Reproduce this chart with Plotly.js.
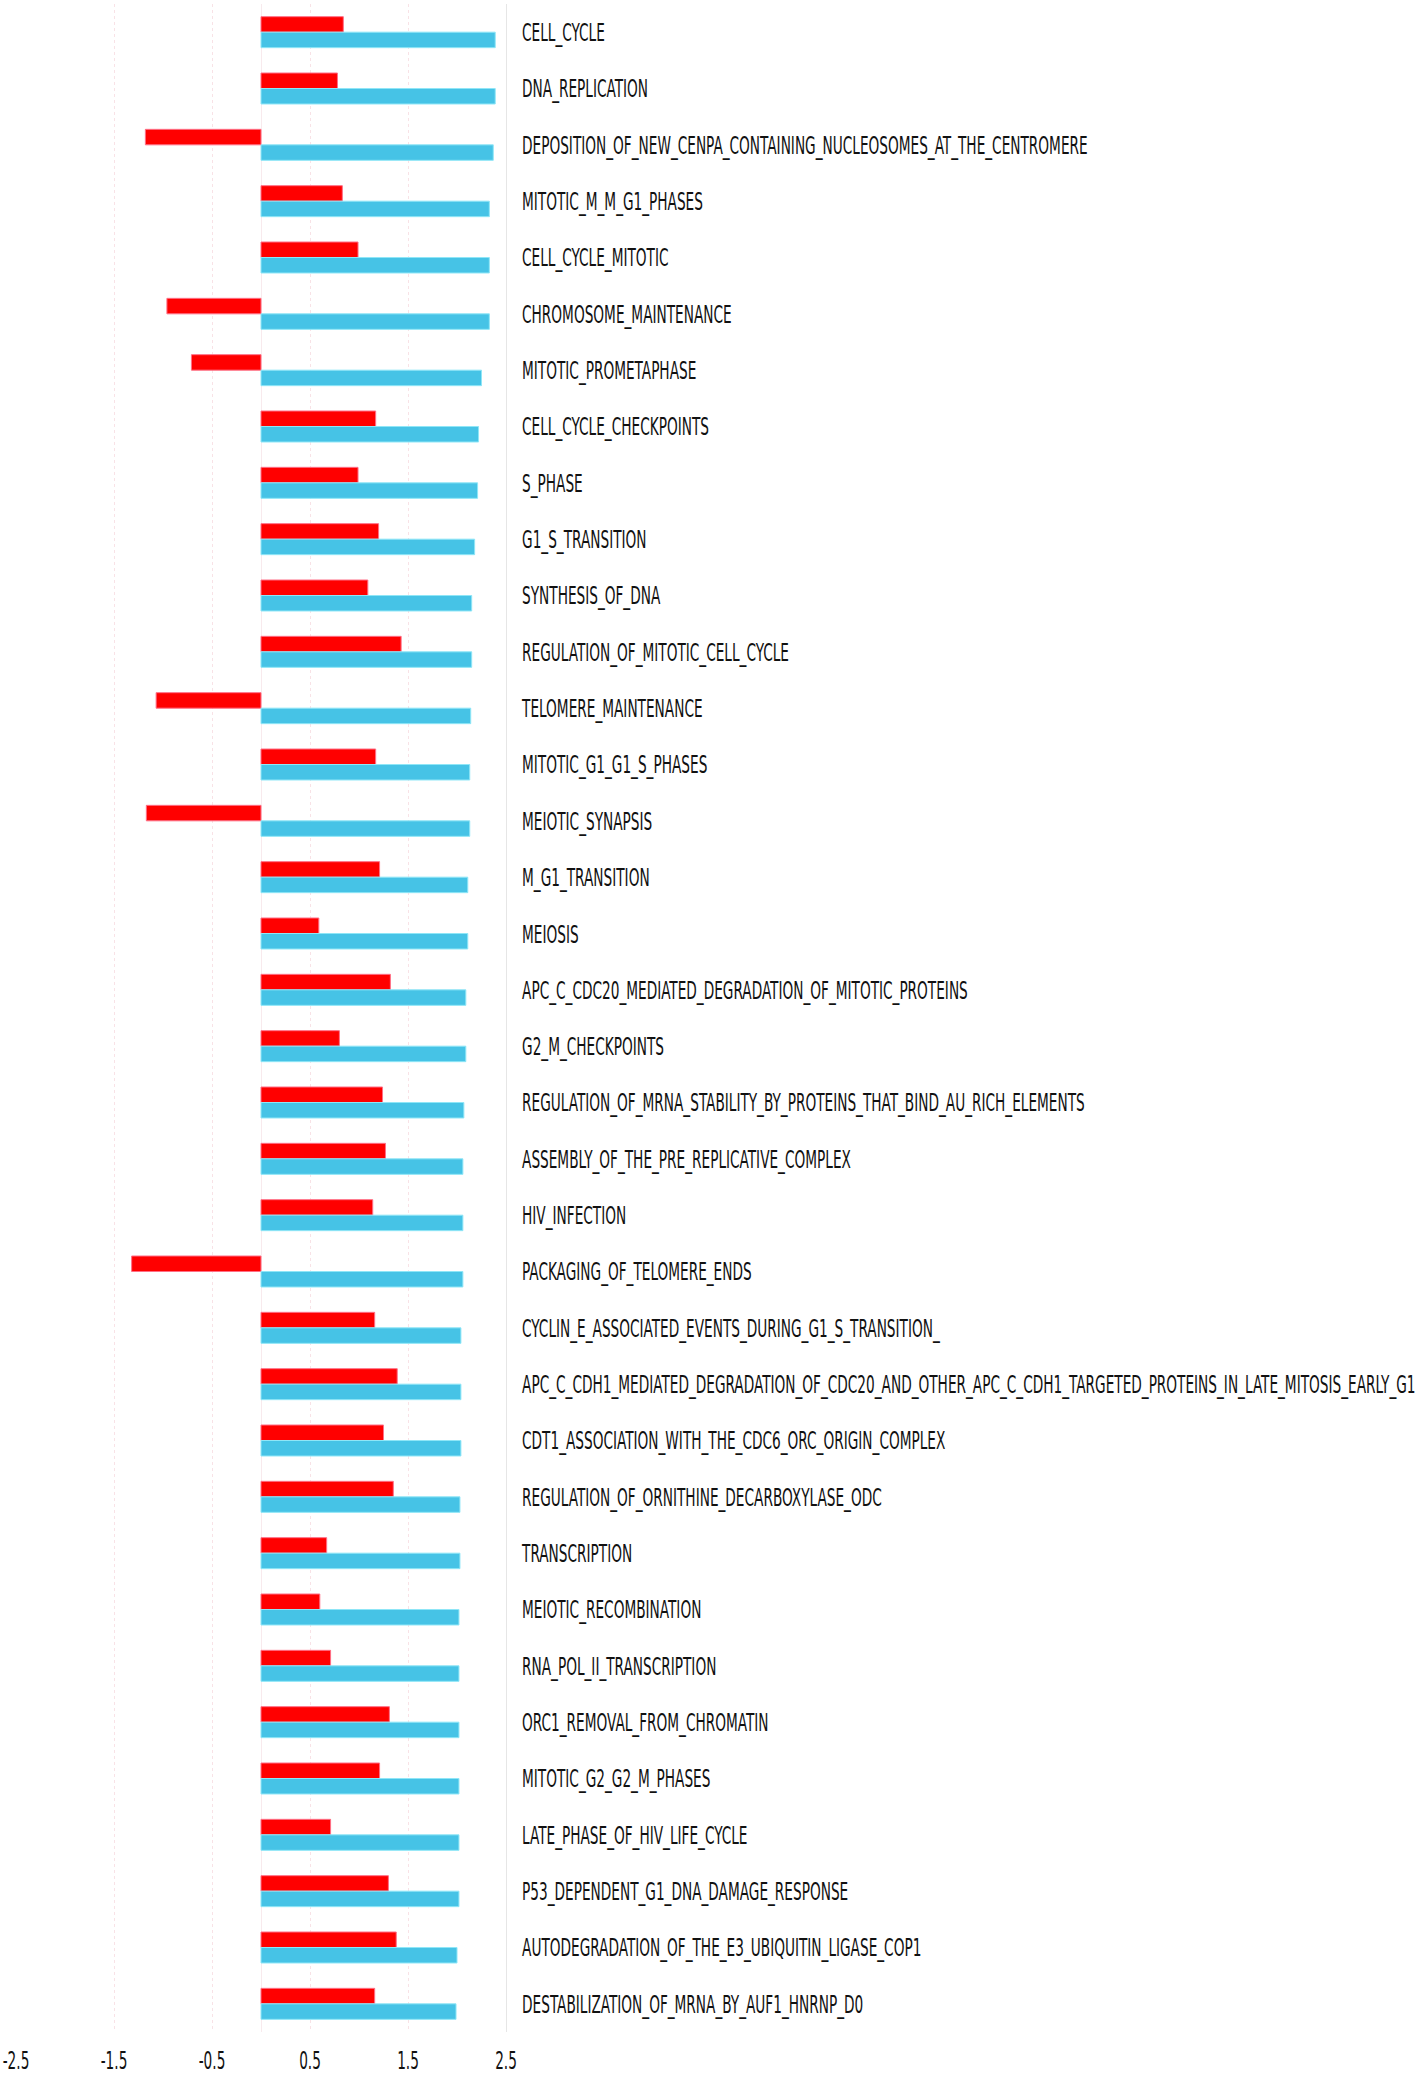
<!DOCTYPE html>
<html>
<head>
<meta charset="utf-8">
<script src="https://cdn.plot.ly/plotly-3.0.1.min.js"></script>
<style>
  html, body { margin: 0; padding: 0; background: #ffffff; }
  #chart { width: 1418px; height: 2076px; }
  /* stretch the condensed labels vertically, like the reference */
  #chart g.ytick, #chart g.xtick {
    transform-box: fill-box;
    transform-origin: center;
    transform: scaleY(1.68);
  }
</style>
</head>
<body>
<div id="chart"></div>
<script>
const pathways = [
  "CELL_CYCLE",
  "DNA_REPLICATION",
  "DEPOSITION_OF_NEW_CENPA_CONTAINING_NUCLEOSOMES_AT_THE_CENTROMERE",
  "MITOTIC_M_M_G1_PHASES",
  "CELL_CYCLE_MITOTIC",
  "CHROMOSOME_MAINTENANCE",
  "MITOTIC_PROMETAPHASE",
  "CELL_CYCLE_CHECKPOINTS",
  "S_PHASE",
  "G1_S_TRANSITION",
  "SYNTHESIS_OF_DNA",
  "REGULATION_OF_MITOTIC_CELL_CYCLE",
  "TELOMERE_MAINTENANCE",
  "MITOTIC_G1_G1_S_PHASES",
  "MEIOTIC_SYNAPSIS",
  "M_G1_TRANSITION",
  "MEIOSIS",
  "APC_C_CDC20_MEDIATED_DEGRADATION_OF_MITOTIC_PROTEINS",
  "G2_M_CHECKPOINTS",
  "REGULATION_OF_MRNA_STABILITY_BY_PROTEINS_THAT_BIND_AU_RICH_ELEMENTS",
  "ASSEMBLY_OF_THE_PRE_REPLICATIVE_COMPLEX",
  "HIV_INFECTION",
  "PACKAGING_OF_TELOMERE_ENDS",
  "CYCLIN_E_ASSOCIATED_EVENTS_DURING_G1_S_TRANSITION_",
  "APC_C_CDH1_MEDIATED_DEGRADATION_OF_CDC20_AND_OTHER_APC_C_CDH1_TARGETED_PROTEINS_IN_LATE_MITOSIS_EARLY_G1",
  "CDT1_ASSOCIATION_WITH_THE_CDC6_ORC_ORIGIN_COMPLEX",
  "REGULATION_OF_ORNITHINE_DECARBOXYLASE_ODC",
  "TRANSCRIPTION",
  "MEIOTIC_RECOMBINATION",
  "RNA_POL_II_TRANSCRIPTION",
  "ORC1_REMOVAL_FROM_CHROMATIN",
  "MITOTIC_G2_G2_M_PHASES",
  "LATE_PHASE_OF_HIV_LIFE_CYCLE",
  "P53_DEPENDENT_G1_DNA_DAMAGE_RESPONSE",
  "AUTODEGRADATION_OF_THE_E3_UBIQUITIN_LIGASE_COP1",
  "DESTABILIZATION_OF_MRNA_BY_AUF1_HNRNP_D0"
];

const redValues = [
  0.84, 0.78, -1.18, 0.83, 0.99, -0.96,
  -0.71, 1.17, 0.99, 1.20, 1.09, 1.43,
  -1.07, 1.17, -1.17, 1.21, 0.59, 1.32,
  0.80, 1.24, 1.27, 1.14, -1.32, 1.16,
  1.39, 1.25, 1.35, 0.67, 0.60, 0.71,
  1.31, 1.21, 0.71, 1.30, 1.38, 1.16
];

const blueValues = [
  2.39, 2.39, 2.37, 2.33, 2.33, 2.33,
  2.25, 2.22, 2.21, 2.18, 2.15, 2.15,
  2.14, 2.13, 2.13, 2.11, 2.11, 2.09,
  2.09, 2.07, 2.06, 2.06, 2.06, 2.04,
  2.04, 2.04, 2.03, 2.03, 2.02, 2.02,
  2.02, 2.02, 2.02, 2.02, 2.00, 1.99
];

const xTickValues = [-2.5, -1.5, -0.5, 0.5, 1.5, 2.5];
const xTickLabels = ["-2.5", "-1.5", "-0.5", "0.5", "1.5", "2.5"];

const labelFont = {
  family: "'Liberation Sans Narrow', 'Arial Narrow', 'DejaVu Sans Condensed', sans-serif",
  size: 15.2,
  color: "#111111"
};

const traces = [
  {
    type: "bar",
    orientation: "h",
    y: pathways,
    x: redValues,
    marker: { color: "#FF0000", line: { color: "#ff6f86", width: 1 } },
    hoverinfo: "x+y"
  },
  {
    type: "bar",
    orientation: "h",
    y: pathways,
    x: blueValues,
    marker: { color: "#46C3E6", line: { color: "#8fe6f7", width: 1 } },
    hoverinfo: "x+y"
  }
];

const layout = {
  width: 1418,
  height: 2076,
  margin: { l: 16, r: 912, t: 4, b: 44, pad: 0 },
  paper_bgcolor: "#ffffff",
  plot_bgcolor: "#ffffff",
  showlegend: false,
  barmode: "group",
  bargap: 0.45,
  bargroupgap: 0,
  font: labelFont,
  xaxis: {
    range: [-2.5, 2.5],
    tickvals: xTickValues,
    ticktext: xTickLabels,
    showgrid: true,
    gridcolor: "#f8e2e6",
    griddash: "dot",
    gridwidth: 1,
    zeroline: true,
    zerolinecolor: "#f8eaed",
    zerolinewidth: 1,
    showline: false,
    ticks: "",
    ticklabelstandoff: 17,
    tickfont: labelFont,
    automargin: false,
    fixedrange: true
  },
  yaxis: {
    type: "category",
    autorange: "reversed",
    side: "right",
    showgrid: false,
    zeroline: false,
    showline: true,
    linecolor: "#e6e6e6",
    linewidth: 1,
    ticks: "",
    ticklabelstandoff: 12,
    tickfont: labelFont,
    automargin: false,
    fixedrange: true
  }
};

Plotly.newPlot("chart", traces, layout, { displayModeBar: false, staticPlot: true });
</script>
</body>
</html>
